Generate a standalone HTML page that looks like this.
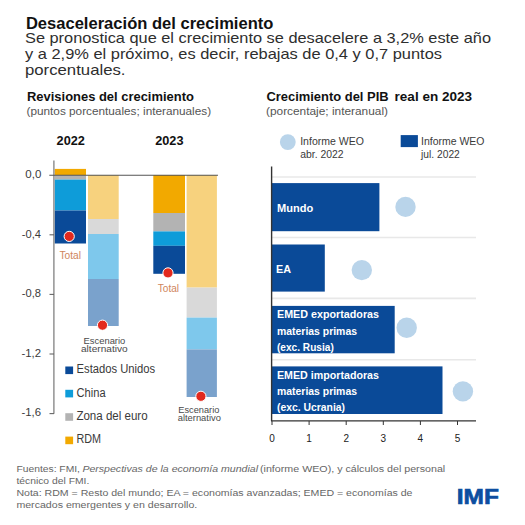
<!DOCTYPE html>
<html><head><meta charset="utf-8">
<style>
html,body{margin:0;padding:0;background:#fff;}
body{width:525px;height:525px;overflow:hidden;}
svg{display:block;font-family:"Liberation Sans",sans-serif;}
</style></head><body>
<svg width="525" height="525" viewBox="0 0 525 525">
<!-- header -->
<text x="25.9" y="28.7" font-size="16.6" font-weight="bold" fill="#111" textLength="247.5" lengthAdjust="spacingAndGlyphs">Desaceleración del crecimiento</text>
<g font-size="15" fill="#2e2e2e">
<text x="25" y="43.3" textLength="466" lengthAdjust="spacingAndGlyphs">Se pronostica que el crecimiento se desacelere a 3,2% este año</text>
<text x="25" y="59.4" textLength="417" lengthAdjust="spacingAndGlyphs">y a 2,9% el próximo, es decir, rebajas de 0,4 y 0,7 puntos</text>
<text x="25" y="75.4" textLength="100.5" lengthAdjust="spacingAndGlyphs">porcentuales.</text>
</g>
<!-- left chart titles -->
<text x="27" y="101" font-size="12.6" font-weight="bold" fill="#111" textLength="166.9" lengthAdjust="spacingAndGlyphs">Revisiones del crecimiento</text>
<text x="26.5" y="114.6" font-size="10" fill="#555" textLength="184.6" lengthAdjust="spacingAndGlyphs">(puntos porcentuales; interanuales)</text>
<text x="56.6" y="145.1" font-size="12" font-weight="bold" fill="#111" textLength="28.3" lengthAdjust="spacingAndGlyphs">2022</text>
<text x="155.2" y="145.1" font-size="12" font-weight="bold" fill="#111" textLength="28.3" lengthAdjust="spacingAndGlyphs">2023</text>

<!-- left bars 2022 -->
<rect x="54.7" y="168.9" width="31.3" height="6.3" fill="#f2a900"/>
<rect x="54.7" y="175.2" width="31.3" height="4.4" fill="#b3b3b3"/>
<rect x="54.7" y="179.6" width="31.3" height="30.9" fill="#0e9cd9"/>
<rect x="54.7" y="210.5" width="31.3" height="33" fill="#0a4a98"/>
<rect x="88" y="175" width="30.7" height="44" fill="#f7d27e"/>
<rect x="88" y="219" width="30.7" height="15" fill="#d9d9d9"/>
<rect x="88" y="234" width="30.7" height="45" fill="#7ec8ec"/>
<rect x="88" y="279" width="30.7" height="47" fill="#7aa2cc"/>
<!-- left bars 2023 -->
<rect x="153.3" y="175" width="31.7" height="38" fill="#f2a900"/>
<rect x="153.3" y="213" width="31.7" height="18.4" fill="#b3b3b3"/>
<rect x="153.3" y="231.4" width="31.7" height="14.4" fill="#0e9cd9"/>
<rect x="153.3" y="245.8" width="31.7" height="28" fill="#0a4a98"/>
<rect x="186.6" y="175" width="30.3" height="112.6" fill="#f7d27e"/>
<rect x="186.6" y="287.6" width="30.3" height="30" fill="#d9d9d9"/>
<rect x="186.6" y="317.6" width="30.3" height="31.8" fill="#7ec8ec"/>
<rect x="186.6" y="349.4" width="30.3" height="47.6" fill="#7aa2cc"/>

<!-- axis -->
<line x1="53.9" y1="160.5" x2="53.9" y2="413.8" stroke="#808080" stroke-width="1.3"/>
<line x1="49.3" y1="175.2" x2="218" y2="175.2" stroke="#555" stroke-width="1.1"/>
<g stroke="#666" stroke-width="1.1">
<line x1="49.5" y1="234.8" x2="54" y2="234.8"/>
<line x1="49.5" y1="294.4" x2="54" y2="294.4"/>
<line x1="49.5" y1="354" x2="54" y2="354"/>
<line x1="49.5" y1="413.6" x2="54" y2="413.6"/>
</g>
<g font-size="10.8" fill="#3a3a3a">
<text x="25.3" y="177.9" textLength="16" lengthAdjust="spacingAndGlyphs">0,0</text>
<text x="21.8" y="237.6" textLength="19.2" lengthAdjust="spacingAndGlyphs">-0,4</text>
<text x="21.8" y="297.2" textLength="19.2" lengthAdjust="spacingAndGlyphs">-0,8</text>
<text x="21.4" y="356.8" textLength="19.6" lengthAdjust="spacingAndGlyphs">-1,2</text>
<text x="21.4" y="416.4" textLength="19.6" lengthAdjust="spacingAndGlyphs">-1,6</text>
</g>

<!-- dots -->
<g fill="#e3291d" stroke="#fff" stroke-width="1">
<circle cx="69.2" cy="236.4" r="5.1"/>
<circle cx="102.5" cy="325.2" r="5.1"/>
<circle cx="168" cy="272.9" r="5.1"/>
<circle cx="200.9" cy="396.3" r="5.1"/>
</g>
<g font-size="10.8" fill="#cf855c">
<text x="59.5" y="259" textLength="21.5" lengthAdjust="spacingAndGlyphs">Total</text>
<text x="157.8" y="291.8" textLength="21.2" lengthAdjust="spacingAndGlyphs">Total</text>
</g>
<g font-size="9" fill="#4a4a4a">
<text x="83.6" y="343.5" textLength="41.7" lengthAdjust="spacingAndGlyphs">Escenario</text>
<text x="81" y="352.3" textLength="46.6" lengthAdjust="spacingAndGlyphs">alternativo</text>
<text x="178.3" y="412.7" textLength="41.1" lengthAdjust="spacingAndGlyphs">Escenario</text>
<text x="177.7" y="421.3" textLength="43.2" lengthAdjust="spacingAndGlyphs">alternativo</text>
</g>

<!-- legend left -->
<rect x="65.3" y="366.5" width="7.8" height="7.6" fill="#0a4a98"/>
<rect x="65.3" y="389.8" width="7.8" height="7.6" fill="#0e9cd9"/>
<rect x="65.3" y="413.2" width="7.8" height="7.6" fill="#b3b3b3"/>
<rect x="65.3" y="436.6" width="7.8" height="7.6" fill="#f2a900"/>
<g font-size="12.3" fill="#3a3a3a">
<text x="76.6" y="373.3" textLength="78.6" lengthAdjust="spacingAndGlyphs">Estados Unidos</text>
<text x="76.6" y="396.7" textLength="29" lengthAdjust="spacingAndGlyphs">China</text>
<text x="76.4" y="420.2" textLength="71.2" lengthAdjust="spacingAndGlyphs">Zona del euro</text>
<text x="76.4" y="443.2" textLength="24.6" lengthAdjust="spacingAndGlyphs">RDM</text>
</g>

<!-- right chart -->
<g font-size="13" font-weight="bold" fill="#111"><text x="266.4" y="101.4" textLength="122.2" lengthAdjust="spacingAndGlyphs">Crecimiento del PIB</text><text x="394.6" y="101.4" textLength="77.4" lengthAdjust="spacingAndGlyphs">real en 2023</text></g>
<text x="266" y="115.2" font-size="10" fill="#555" textLength="122" lengthAdjust="spacingAndGlyphs">(porcentaje; interanual)</text>
<circle cx="287.8" cy="142.1" r="7.9" fill="#b9d4ea"/>
<g font-size="10" fill="#3a3a3a">
<text x="300.2" y="145.4" textLength="63.8" lengthAdjust="spacingAndGlyphs">Informe WEO</text>
<text x="300.2" y="157.6" textLength="43.4" lengthAdjust="spacingAndGlyphs">abr. 2022</text>
<text x="421" y="144.8" textLength="63.5" lengthAdjust="spacingAndGlyphs">Informe WEO</text>
<text x="421" y="157.5" textLength="38.8" lengthAdjust="spacingAndGlyphs">jul. 2022</text>
</g>
<rect x="400.7" y="135.1" width="17.2" height="12" fill="#0a4a98"/>

<g stroke="#e8e8e8" stroke-width="1.6">
<line x1="272" y1="177" x2="476" y2="177"/>
<line x1="272" y1="237.5" x2="476" y2="237.5"/>
<line x1="272" y1="298.4" x2="476" y2="298.4"/>
<line x1="272" y1="359.8" x2="476" y2="359.8"/>
</g>
<rect x="272" y="183.1" width="107.4" height="48.1" fill="#0a4a98"/>
<rect x="272" y="244.5" width="52.8" height="47.1" fill="#0a4a98"/>
<rect x="272" y="305.9" width="122.7" height="47.4" fill="#0a4a98"/>
<rect x="272" y="366.4" width="170.5" height="47.6" fill="#0a4a98"/>
<g fill="#b9d4ea">
<circle cx="405.5" cy="206.9" r="10.2"/>
<circle cx="361.8" cy="270.1" r="10.2"/>
<circle cx="406.7" cy="327.7" r="10.2"/>
<circle cx="462.9" cy="391.4" r="10.2"/>
</g>
<line x1="271.6" y1="166.5" x2="271.6" y2="421" stroke="#333" stroke-width="1.4"/>
<line x1="271" y1="420.8" x2="476" y2="420.8" stroke="#333" stroke-width="1.2"/>
<g stroke="#333" stroke-width="1">
<line x1="272" y1="421" x2="272" y2="425"/>
<line x1="309.1" y1="421" x2="309.1" y2="425"/>
<line x1="346.2" y1="421" x2="346.2" y2="425"/>
<line x1="383.3" y1="421" x2="383.3" y2="425"/>
<line x1="420.4" y1="421" x2="420.4" y2="425"/>
<line x1="457.5" y1="421" x2="457.5" y2="425"/>
</g>
<g font-size="10" fill="#222" text-anchor="middle">
<text x="272" y="441.7">0</text>
<text x="309.1" y="441.7">1</text>
<text x="346.2" y="441.7">2</text>
<text x="383.3" y="441.7">3</text>
<text x="420.4" y="441.7">4</text>
<text x="457.5" y="441.7">5</text>
</g>
<g font-size="11" font-weight="bold" fill="#fff">
<text x="277.1" y="211.5" textLength="36.2" lengthAdjust="spacingAndGlyphs">Mundo</text>
<text x="276" y="273.2" textLength="15" lengthAdjust="spacingAndGlyphs">EA</text>
<text x="277" y="318.1" textLength="102" lengthAdjust="spacingAndGlyphs">EMED exportadoras</text>
<text x="277" y="334.7" textLength="80" lengthAdjust="spacingAndGlyphs">materias primas</text>
<text x="277" y="350.7" textLength="56.8" lengthAdjust="spacingAndGlyphs">(exc. Rusia)</text>
<text x="277" y="378.7" textLength="102" lengthAdjust="spacingAndGlyphs">EMED importadoras</text>
<text x="277" y="394.7" textLength="80" lengthAdjust="spacingAndGlyphs">materias primas</text>
<text x="277" y="410.7" textLength="68" lengthAdjust="spacingAndGlyphs">(exc. Ucrania)</text>
</g>

<!-- footer -->
<g font-size="9.7" fill="#666">
<text x="16.4" y="472" textLength="63.6" lengthAdjust="spacingAndGlyphs">Fuentes: FMI,</text>
<text x="82.4" y="472" font-style="italic" textLength="175.6" lengthAdjust="spacingAndGlyphs">Perspectivas de la economía mundial</text>
<text x="260" y="472" textLength="185.2" lengthAdjust="spacingAndGlyphs">(informe WEO), y cálculos del personal</text>
<text x="16.4" y="483.9" textLength="72.9" lengthAdjust="spacingAndGlyphs">técnico del FMI.</text>
<text x="16.4" y="495.8" textLength="396.1" lengthAdjust="spacingAndGlyphs">Nota: RDM = Resto del mundo; EA = economías avanzadas; EMED = economías de</text>
<text x="16.4" y="507.7" textLength="180.9" lengthAdjust="spacingAndGlyphs">mercados emergentes y en desarrollo.</text>
</g>
<text x="456.8" y="504.1" font-size="22.8" font-weight="bold" fill="#0d4ea0" stroke="#0d4ea0" stroke-width="0.7" textLength="42.1" lengthAdjust="spacingAndGlyphs">IMF</text>
</svg>
</body></html>
